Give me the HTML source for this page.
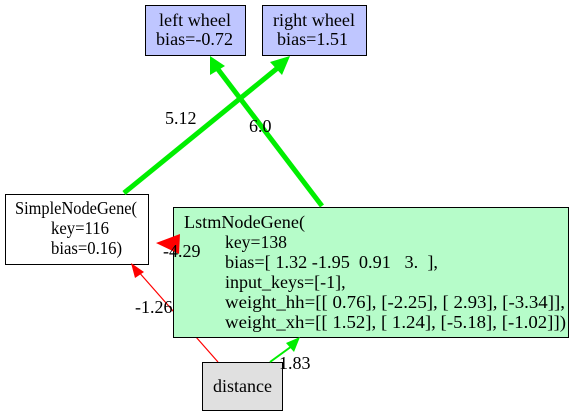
<!DOCTYPE html>
<html><head><style>body{margin:0;background:#fff}svg{display:block}</style></head><body>
<svg width="573" height="416" viewBox="0 0 573 416" xmlns="http://www.w3.org/2000/svg" font-family="Liberation Serif, Times New Roman, serif" font-size="18">
<rect x="145.5" y="5.5" width="100" height="50" fill="#bfc6ff" stroke="#000"/>
<text x="159" y="26" textLength="72" lengthAdjust="spacingAndGlyphs">left wheel</text>
<text x="156" y="45" textLength="77" lengthAdjust="spacingAndGlyphs">bias=-0.72</text>
<rect x="262.5" y="5.5" width="104" height="50" fill="#bfc6ff" stroke="#000"/>
<text x="273" y="26" textLength="82" lengthAdjust="spacingAndGlyphs">right wheel</text>
<text x="277" y="45" textLength="71" lengthAdjust="spacingAndGlyphs">bias=1.51</text>
<rect x="5.5" y="194.5" width="143" height="70" fill="#fff" stroke="#000"/>
<text x="15" y="214" textLength="122" lengthAdjust="spacingAndGlyphs">SimpleNodeGene(</text>
<text x="51" y="234" textLength="58" lengthAdjust="spacingAndGlyphs">key=116</text>
<text x="51" y="254" textLength="71" lengthAdjust="spacingAndGlyphs">bias=0.16)</text>
<line x1="218" y1="362" x2="137" y2="270" stroke="#f00" stroke-width="1.2"/>
<polygon points="131,263 144,272 135,278" fill="#f00"/>
<rect x="173.5" y="207.5" width="395" height="130" fill="#b6fcc9" stroke="#000"/>
<polygon points="156,243 180,234 179,254" fill="#f00"/>
<text x="184" y="228" textLength="121" lengthAdjust="spacingAndGlyphs">LstmNodeGene(</text>
<text x="225" y="248" textLength="62" lengthAdjust="spacingAndGlyphs">key=138</text>
<text x="225" y="268" textLength="213" lengthAdjust="spacingAndGlyphs">bias=[ 1.32 -1.95&#160; 0.91&#160;&#160; 3.&#160; ],</text>
<text x="225" y="288">input_keys=[-1],</text>
<text x="225" y="308" textLength="340" lengthAdjust="spacingAndGlyphs">weight_hh=[[ 0.76], [-2.25], [ 2.93], [-3.34]],</text>
<text x="225" y="328" textLength="341" lengthAdjust="spacingAndGlyphs">weight_xh=[[ 1.52], [ 1.24], [-5.18], [-1.02]])</text>
<rect x="202.5" y="362.5" width="80" height="48" fill="#e0e0e0" stroke="#000"/>
<text x="213" y="392" textLength="59" lengthAdjust="spacingAndGlyphs">distance</text>
<g stroke="#00ee00" stroke-width="5" fill="#00ee00">
<line x1="124" y1="193" x2="280" y2="66"/>
<line x1="322" y1="206" x2="217" y2="68"/>
</g>
<polygon points="290,56 270,62 282,75" fill="#00ee00"/>
<polygon points="210,56 210,75 225,66" fill="#00ee00"/>
<line x1="270" y1="362" x2="292" y2="346" stroke="#00ee00" stroke-width="2"/>
<polygon points="300,337 286,343 294,352" fill="#00ee00"/>
<text x="165" y="124">5.12</text>
<text x="249" y="132">6.0</text>
<text x="163" y="257">-4.29</text>
<text x="135" y="313">-1.26</text>
<text x="279" y="369">1.83</text>
</svg>
</body></html>
